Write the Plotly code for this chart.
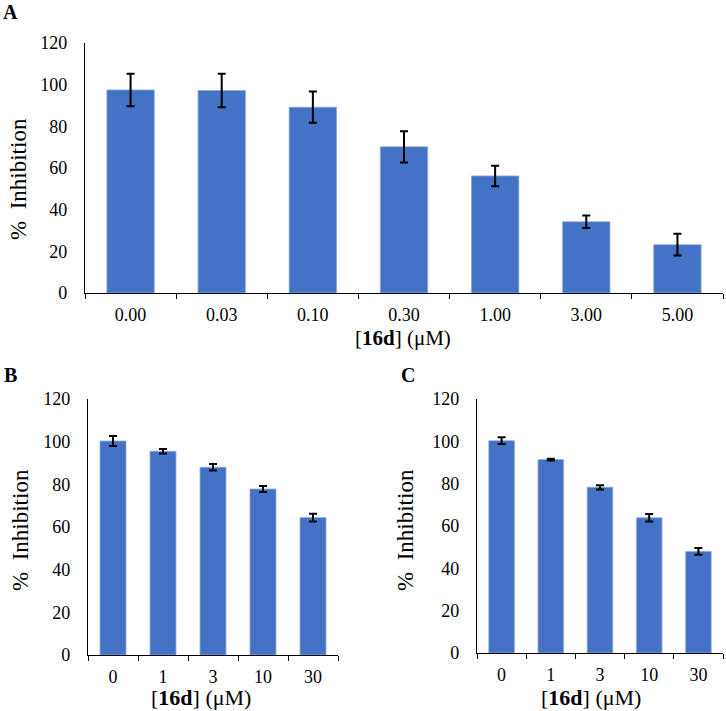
import plotly.graph_objects as go

# Panel A data
a_labels = ["0.00", "0.03", "0.10", "0.30", "1.00", "3.00", "5.00"]
a_values = [97.5, 97.2, 89.2, 70.2, 56.2, 34.2, 23.2]
a_errors = [7.8, 8.0, 7.5, 7.5, 4.9, 3.0, 5.2]

# Panel B data
b_labels = ["0", "1", "3", "10", "30"]
b_values = [100.3, 95.5, 88.0, 77.8, 64.4]
b_errors = [2.3, 1.1, 1.5, 1.4, 1.8]

# Panel C data
c_labels = ["0", "1", "3", "10", "30"]
c_values = [100.3, 91.4, 78.3, 63.9, 48.0]
c_errors = [1.6, 0.4, 1.0, 1.8, 1.6]

W, H = 726, 711
FONT = "Liberation Serif"
BAR = "#4472C4"

def px(x):
    return x / W

def py(y):
    return 1 - y / H

fig = go.Figure()

def add_bars(labels, values, errors, xa, ya):
    fig.add_trace(go.Bar(
        x=labels, y=values, xaxis=xa, yaxis=ya,
        marker=dict(color=BAR, line=dict(color="#8FAADC", width=0.8)),
        error_y=dict(type="data", array=errors, visible=True,
                     color="black", thickness=2, width=4),
        showlegend=False,
    ))

add_bars(a_labels, a_values, a_errors, "x", "y")
add_bars(b_labels, b_values, b_errors, "x2", "y2")
add_bars(c_labels, c_values, c_errors, "x3", "y3")

def xaxis_cfg(domain, anchor):
    return dict(domain=domain, anchor=anchor, type="category",
                showline=True, linecolor="black", linewidth=1.2,
                ticks="outside", tickson="boundaries", ticklen=5,
                tickcolor="black", tickwidth=1.2,
                tickfont=dict(family=FONT, size=18, color="black"),
                ticklabelstandoff=5, showgrid=False, zeroline=False,
                automargin=False, fixedrange=True)

def yaxis_cfg(domain, anchor):
    return dict(domain=domain, anchor=anchor, range=[0, 120], dtick=20,
                showline=True, linecolor="black", linewidth=1.2,
                ticks="", showgrid=False, zeroline=False,
                tickfont=dict(family=FONT, size=18, color="black"),
                ticklabelstandoff=13, automargin=False, fixedrange=True)

fig.update_layout(
    width=W, height=H,
    margin=dict(l=0, r=0, t=0, b=0, pad=0),
    paper_bgcolor="white", plot_bgcolor="white",
    bargap=0.48,
    font=dict(family=FONT, color="black"),
    xaxis=xaxis_cfg([px(85), px(723)], "y"),
    yaxis=yaxis_cfg([py(293), py(43)], "x"),
    xaxis2=xaxis_cfg([px(88), px(338)], "y2"),
    yaxis2=yaxis_cfg([py(655), py(399)], "x2"),
    xaxis3=xaxis_cfg([px(477), px(723)], "y3"),
    yaxis3=yaxis_cfg([py(653), py(399)], "x3"),
)

annots = [
    dict(text="<b>A</b>", x=px(10), y=py(12), size=20),
    dict(text="<b>B</b>", x=px(10), y=py(375), size=20),
    dict(text="<b>C</b>", x=px(408), y=py(375), size=20),
    dict(text="[<b>16d</b>] (μM)", x=px(403), y=py(338), size=21),
    dict(text="[<b>16d</b>] (μM)", x=px(201), y=py(697), size=22),
    dict(text="[<b>16d</b>] (μM)", x=px(591), y=py(697), size=22),
]
for a in annots:
    fig.add_annotation(text=a["text"], x=a["x"], y=a["y"], xref="paper", yref="paper",
                       xanchor="center", yanchor="middle", showarrow=False,
                       font=dict(family=FONT, size=a["size"], color="black"))

for (x, y) in [(19, 179), (20, 530), (405, 530)]:
    fig.add_annotation(text="%  Inhibition", x=px(x), y=py(y), xref="paper", yref="paper",
                       xanchor="center", yanchor="middle", showarrow=False, textangle=-90,
                       font=dict(family=FONT, size=23, color="black"))

post = "document.body.style.margin='0';document.body.style.overflow='hidden';"
fig.write_html("out.html", post_script=post, config={"displayModeBar": False})
